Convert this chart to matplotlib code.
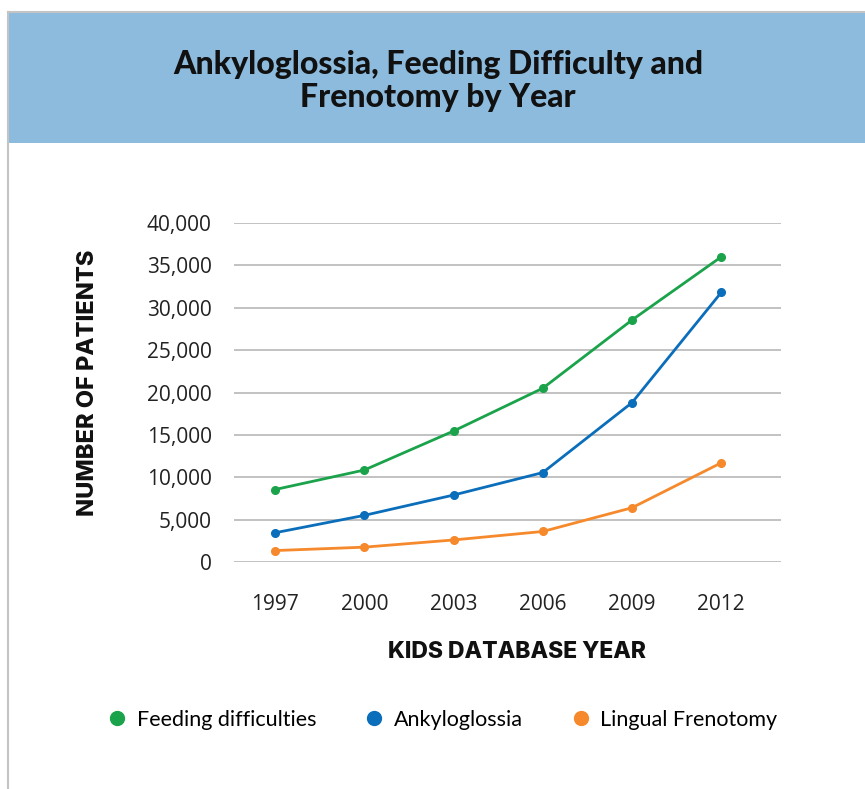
import numpy as np
import matplotlib
matplotlib.use("Agg")
import matplotlib.pyplot as plt
from matplotlib.patches import Rectangle
from matplotlib.lines import Line2D
from matplotlib.ticker import FuncFormatter

years = ["1997", "2000", "2003", "2006", "2009", "2012"]
feeding = [8550, 10850, 15450, 20500, 28550, 36000]
ankylo = [3450, 5500, 7900, 10550, 18800, 31800]
frenotomy = [1350, 1750, 2600, 3600, 6400, 11700]

series_names = ["Feeding difficulties", "Ankyloglossia", "Lingual Frenotomy"]
series_colors = ["#1BA34B", "#0B6EBB", "#F5892B"]

W, H = 865, 789
fig = plt.figure(figsize=(W / 100, H / 100), dpi=100)

# panel frame + header band
fig.add_artist(Rectangle((8 / W, 1 - 143 / H), 1, 131 / H, transform=fig.transFigure,
                         facecolor="#8DBBDE", edgecolor="none", zorder=0))
fig.add_artist(Line2D([8 / W, 1], [1 - 12 / H] * 2, transform=fig.transFigure,
                      color="#C4C4C4", lw=1.5))
fig.add_artist(Line2D([8 / W] * 2, [0, 1 - 12 / H], transform=fig.transFigure,
                      color="#C4C4C4", lw=1.5))

fig.text(438 / W, 1 - 81 / H, "Ankyloglossia, Feeding Difficulty and\nFrenotomy by Year",
         ha="center", va="center", fontsize=23, fontweight=900, family="Lato",
         linespacing=1.2, color="#111111")

ax = fig.add_axes([234 / W, 1 - 562 / H, (781 - 234) / W, 339 / H])
x = np.arange(len(years))
for vals, name, col in zip([feeding, ankylo, frenotomy], series_names, series_colors):
    ax.plot(x, vals, color=col, lw=2, marker="o", markersize=5.5, label=name,
            clip_on=False, zorder=3)

ax.set_xlim(-0.46, 5.67)
ax.set_ylim(0, 40000)
ax.set_yticks(np.arange(0, 40001, 5000))
ax.yaxis.set_major_formatter(FuncFormatter(lambda v, p: f"{int(v):,}"))
ax.set_xticks(x)
ax.set_xticklabels(years)
ax.grid(axis="y", color="#BDBDBD", lw=1.3)
ax.set_axisbelow(True)
for s in ax.spines.values():
    s.set_visible(False)
ax.tick_params(axis="both", length=0, labelsize=15, labelcolor="#222222")
ax.tick_params(axis="y", pad=16)
ax.tick_params(axis="x", pad=23)
for lab in ax.get_xticklabels() + ax.get_yticklabels():
    lab.set_family("Open Sans")

fig.text(517 / W, 1 - 652 / H, "KIDS DATABASE YEAR", ha="center", va="center",
         fontsize=16.5, fontweight=800, family="Inter", color="#111111")
fig.text(88 / W, 1 - 383 / H, "NUMBER OF PATIENTS", ha="center", va="center",
         rotation=90, fontsize=17, fontweight=800, family="Inter", color="#111111")

handles = [Line2D([], [], color=c, marker="o", linestyle="none", markersize=10)
           for c in series_colors]
fig.legend(handles, series_names, loc="center", bbox_to_anchor=(442 / W, 1 - 720 / H),
           ncol=3, frameon=False, prop={"family": "Lato", "size": 15.5},
           handletextpad=0.4, columnspacing=2.2, handlelength=1.0)

fig.savefig("out.png", dpi=100, facecolor="white")
